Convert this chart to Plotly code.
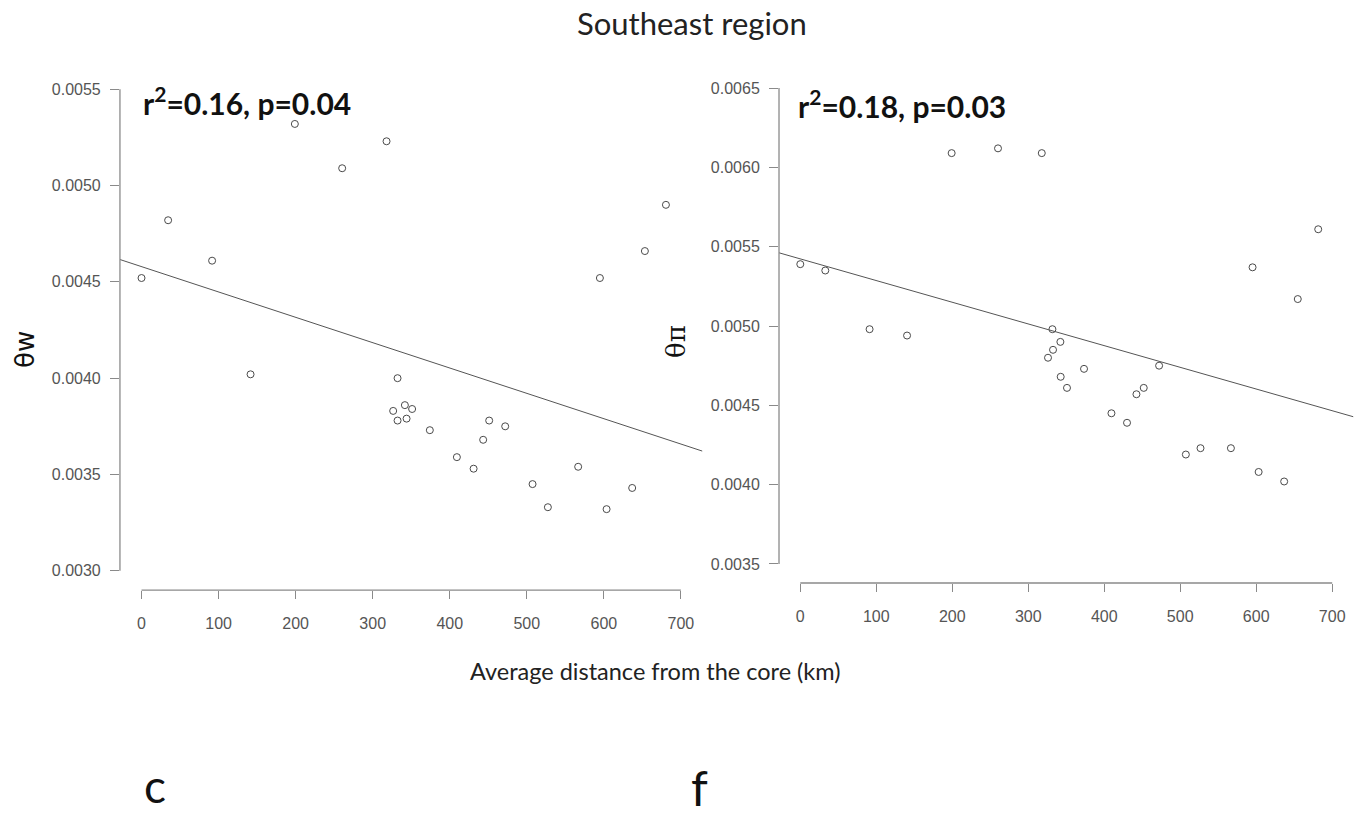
import numpy as np
import plotly.graph_objects as go

# ---------------- data ----------------
dist_w = [0, 34.5, 91.6, 141.5, 199, 260.4, 318, 332.3, 341.8, 351.2, 326.6, 332.3, 344,
          374.2, 451.2, 472, 443.4, 409.3, 431, 507.5, 527.4, 566.7, 594.9, 603.6, 636.8,
          653.3, 680.6]
theta_w = [0.00452, 0.00482, 0.00461, 0.00402, 0.00532, 0.00509, 0.00523, 0.00400, 0.00386,
           0.00384, 0.00383, 0.00378, 0.00379, 0.00373, 0.00378, 0.00375, 0.00368, 0.00359,
           0.00353, 0.00345, 0.00333, 0.00354, 0.00452, 0.00332, 0.00343, 0.00466, 0.00490]

dist_pi = [0, 32.9, 91.2, 140.5, 199.2, 260.2, 317.8, 331.8, 342.3, 332.6, 326, 373.4, 342.7,
           351, 472.2, 452, 442.4, 409.5, 430, 507.4, 526.7, 566.7, 595.2, 603.2, 636.8,
           654.7, 681.6]
theta_pi = [0.00539, 0.00535, 0.00498, 0.00494, 0.00609, 0.00612, 0.00609, 0.00498, 0.00490,
            0.00485, 0.00480, 0.00473, 0.00468, 0.00461, 0.00475, 0.00461, 0.00457, 0.00445,
            0.00439, 0.00419, 0.00423, 0.00423, 0.00537, 0.00408, 0.00402, 0.00517, 0.00561]

x_ticks = [0, 100, 200, 300, 400, 500, 600, 700]
yw_ticks = [0.0030, 0.0035, 0.0040, 0.0045, 0.0050, 0.0055]
ypi_ticks = [0.0035, 0.0040, 0.0045, 0.0050, 0.0055, 0.0060, 0.0065]

title_text = "Southeast region"
xlabel_text = "Average distance from the core (km)"
stat_w = "r<sup>2</sup>=0.16, p=0.04"
stat_pi = "r<sup>2</sup>=0.18, p=0.03"

# ---------------- style ----------------
AXC = "#8a8a8a"
TICKFONT = dict(family="Liberation Sans, Arial", size=16, color="#555555")
PT = "#4a4a4a"


def padded(lo, hi, f=0.04):
    d = (hi - lo) * f
    return [lo - d, hi + d]


xr = padded(min(x_ticks), max(x_ticks))
yr_w = padded(min(yw_ticks), max(yw_ticks))
yr_pi = padded(min(ypi_ticks), max(ypi_ticks))

fig = go.Figure()

for xs, ys, xa, ya in [(dist_w, theta_w, "x", "y"), (dist_pi, theta_pi, "x2", "y2")]:
    fig.add_trace(go.Scatter(
        x=xs, y=ys, mode="markers", xaxis=xa, yaxis=ya, showlegend=False,
        marker=dict(symbol="circle-open", size=7, color=PT, line=dict(width=1, color=PT)),
    ))
    slope, icpt = np.polyfit(np.array(xs), np.array(ys), 1)
    lx = np.array(xr)
    fig.add_trace(go.Scatter(
        x=lx, y=icpt + slope * lx, mode="lines", xaxis=xa, yaxis=ya, showlegend=False,
        line=dict(color="#555555", width=1),
    ))

common_x = dict(range=xr, tickvals=x_ticks, ticks="outside", ticklen=8, tickcolor=AXC,
                tickwidth=1, showline=False, showgrid=False, zeroline=False,
                tickfont=TICKFONT, ticklabelstandoff=11)
common_y = dict(ticks="outside", ticklen=9, tickcolor=AXC, tickwidth=1, showline=False,
                showgrid=False, zeroline=False, tickfont=TICKFONT, ticklabelstandoff=6,
                tickformat=".4f")

fig.update_layout(
    width=1360, height=817,
    margin=dict(l=0, r=0, t=0, b=0),
    paper_bgcolor="white", plot_bgcolor="white",
    xaxis=dict(domain=[0.0882, 0.5165], anchor="y", **common_x),
    yaxis=dict(domain=[0.2778, 0.9143], anchor="x", range=yr_w, tickvals=yw_ticks, **common_y),
    xaxis2=dict(domain=[0.5728, 0.9952], anchor="y2", **common_x),
    yaxis2=dict(domain=[0.2864, 0.9155], anchor="x2", range=yr_pi, tickvals=ypi_ticks, **common_y),
)

# R-style detached axis lines spanning the tick range
for xa, ya, yt in [("x", "y", yw_ticks), ("x2", "y2", ypi_ticks)]:
    fig.add_shape(type="line", xref=xa, yref=ya + " domain", x0=min(x_ticks), x1=max(x_ticks),
                  y0=0, y1=0, line=dict(color=AXC, width=1.3))
    fig.add_shape(type="line", xref=xa + " domain", yref=ya, x0=0, x1=0,
                  y0=min(yt), y1=max(yt), line=dict(color=AXC, width=1.3))

LATO = "Lato, Open Sans, sans-serif"
ann = [
    dict(text=title_text, x=0.5088, y=0.9718, font=dict(family=LATO, size=31, color="#222222")),
    dict(text=xlabel_text, x=0.4816, y=0.1787, font=dict(family=LATO, size=23.5, color="#222222")),
    dict(text="<b>" + stat_w + "</b>", x=0.1035, y=0.8764, xanchor="left",
         font=dict(family=LATO, size=30, color="#111111")),
    dict(text="<b>" + stat_pi + "</b>", x=0.585, y=0.8727, xanchor="left",
         font=dict(family=LATO, size=30, color="#111111")),
    dict(text="θw", x=0.0184, y=0.5716, textangle=-90,
         font=dict(family="DejaVu Sans", size=26, color="#111111")),
    dict(text="θπ", x=0.497, y=0.5826, textangle=-90,
         font=dict(family="DejaVu Serif", size=26, color="#111111")),
    dict(text="c", x=0.114, y=0.002, yanchor="bottom",
         font=dict(family=LATO, size=46, color="#111111")),
    dict(text="f", x=0.514, y=0.036, font=dict(family=LATO, size=48, color="#111111")),
]
for a in ann:
    a.setdefault("xanchor", "center")
    a.setdefault("yanchor", "middle")
    fig.add_annotation(xref="paper", yref="paper", showarrow=False, **a)

fig.write_html("out.html")
